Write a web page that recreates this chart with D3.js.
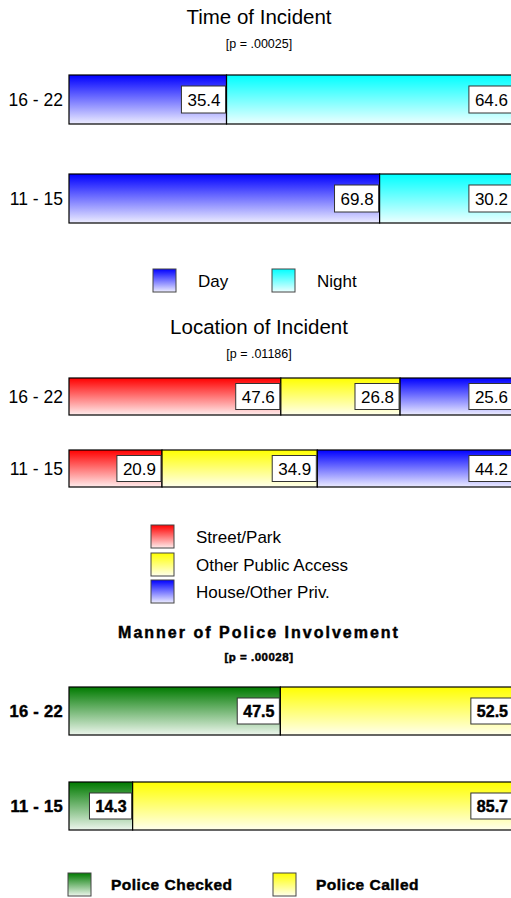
<!DOCTYPE html>
<html>
<head>
<meta charset="utf-8">
<script src="https://cdn.jsdelivr.net/npm/d3@7"></script>
<style>
  html, body { margin: 0; padding: 0; background: #fff; overflow: hidden; }
  svg { display: block; }
</style>
</head>
<body>
<svg id="chart" width="511" height="898"></svg>
<script>
// Age groups shown on every panel
const ageGroups = ["16 - 22", "11 - 15"];

// Time of incident (% of cases)
const timeSeries = ["Day", "Night"];
const timeValues = [[35.4, 64.6], [69.8, 30.2]];
const timeColors = ["#0000ff", "#00ffff"];

// Location of incident (% of cases)
const locationSeries = ["Street/Park", "Other Public Access", "House/Other Priv."];
const locationValues = [[47.6, 26.8, 25.6], [20.9, 34.9, 44.2]];
const locationColors = ["#ff0000", "#ffff00", "#0000ff"];

// Manner of police involvement (% of cases)
const policeSeries = ["Police Checked", "Police Called"];
const policeValues = [[47.5, 52.5], [14.3, 85.7]];
const policeColors = ["#007a00", "#ffff00"];

const svg = d3.select("#chart");
const defs = svg.append("defs");
const FONT = "'Liberation Sans', Arial, Helvetica, sans-serif";

// vertical fade-to-white gradient for each colour
const gradId = {};
[...new Set([...timeColors, ...locationColors, ...policeColors])].forEach((c, i) => {
  const id = "grad" + i;
  gradId[c] = id;
  const g = defs.append("linearGradient").attr("id", id)
    .attr("x1", 0).attr("y1", 0).attr("x2", 0).attr("y2", 1);
  g.append("stop").attr("offset", "0%").attr("stop-color", c);
  g.append("stop").attr("offset", "100%").attr("stop-color", d3.interpolateRgb(c, "#fff")(0.93));
});

const x = d3.scaleLinear().domain([0, 100]).range([69, 514]);

// heavy text style used by the last panel
function heavy(sel, on) {
  if (on) sel.style("font-weight", "bold").attr("stroke", "#000").attr("stroke-width", 0.45);
  return sel;
}

function panel(cfg) {
  const g = svg.append("g");
  const B = !!cfg.bold;

  g.append("text").attr("x", 259).attr("y", cfg.titleY)
    .attr("text-anchor", "middle")
    .style("font-family", FONT).style("font-size", B ? "16px" : "20.5px")
    .style("letter-spacing", B ? "2px" : "0")
    .text(cfg.title).call(heavy, B);
  g.append("text").attr("x", 259).attr("y", cfg.subY)
    .attr("text-anchor", "middle")
    .style("font-family", FONT).style("font-size", B ? "11.5px" : "12.5px")
    .style("letter-spacing", B ? "0.5px" : "0")
    .text(cfg.subtitle).call(heavy, B);

  const y = d3.scalePoint().domain(ageGroups).range(cfg.centers);
  const h = cfg.barH;

  // category labels
  g.selectAll("text.cat").data(ageGroups).join("text").attr("class", "cat")
    .attr("x", 63).attr("y", d => y(d)).attr("dy", "0.35em")
    .attr("text-anchor", "end")
    .style("font-family", FONT).style("font-size", B ? "16.5px" : "17.5px")
    .style("letter-spacing", B ? "0.3px" : "0")
    .text(d => d).call(heavy, B);

  ageGroups.forEach((grp, gi) => {
    const vals = cfg.values[gi];
    let acc = 0;
    const segs = vals.map((v, si) => {
      const s = { start: acc, end: acc + v, v, color: cfg.colors[si] };
      acc += v;
      return s;
    });
    const row = g.append("g");
    row.selectAll("rect.seg").data(segs).join("rect").attr("class", "seg")
      .attr("x", d => x(d.start)).attr("width", d => x(d.end) - x(d.start))
      .attr("y", y(grp) - h / 2).attr("height", h)
      .attr("fill", d => `url(#${gradId[d.color]})`)
      .attr("stroke", "#000").attr("stroke-width", 1.2);

    // value boxes at the right end of each segment
    const lab = row.selectAll("g.lab").data(segs).join("g").attr("class", "lab");
    lab.each(function (d) {
      const el = d3.select(this);
      const t = el.append("text")
        .attr("x", x(d.end) - 6).attr("y", y(grp)).attr("dy", "0.36em")
        .attr("text-anchor", "end")
        .style("font-family", FONT).style("font-size", B ? "16px" : "17px")
        .text(d.v.toFixed(1)).call(heavy, B);
      const w = t.node().getComputedTextLength() + 11;
      el.insert("rect", "text")
        .attr("x", x(d.end) - 1 - w).attr("width", w)
        .attr("y", y(grp) - cfg.boxH / 2).attr("height", cfg.boxH)
        .attr("fill", "#fff").attr("stroke", "#333").attr("stroke-width", 1);
    });
  });

  // legend
  const lg = g.selectAll("g.leg").data(cfg.series).join("g").attr("class", "leg")
    .attr("transform", (d, i) => `translate(${cfg.legend[i][0]},${cfg.legend[i][1]})`);
  lg.append("rect").attr("width", 23).attr("height", 23)
    .attr("fill", (d, i) => `url(#${gradId[cfg.colors[i]]})`)
    .attr("stroke", "#444").attr("stroke-width", 1);
  lg.append("text").attr("x", cfg.legendTextDx).attr("y", 12).attr("dy", "0.35em")
    .style("font-family", FONT).style("font-size", B ? "15.5px" : "17px")
    .style("letter-spacing", B ? "0.5px" : "0")
    .text(d => d).call(heavy, B);
}

panel({
  title: "Time of Incident", subtitle: "[p = .00025]",
  titleY: 24, subY: 48, centers: [99.5, 198.5], barH: 49, boxH: 27,
  values: timeValues, colors: timeColors, series: timeSeries,
  legend: [[153, 269], [272, 269]], legendTextDx: 45
});

panel({
  title: "Location of Incident", subtitle: "[p = .01186]",
  titleY: 334, subY: 358, centers: [396.5, 468.5], barH: 37, boxH: 26,
  values: locationValues, colors: locationColors, series: locationSeries,
  legend: [[151, 525], [151, 553], [151, 580]], legendTextDx: 45
});

panel({
  title: "Manner of Police Involvement", subtitle: "[p = .00028]",
  titleY: 638, subY: 661, centers: [711, 806], barH: 48, boxH: 26,
  values: policeValues, colors: policeColors, series: policeSeries, bold: true,
  legend: [[68, 873], [273, 873]], legendTextDx: 43
});
</script>
</body>
</html>
